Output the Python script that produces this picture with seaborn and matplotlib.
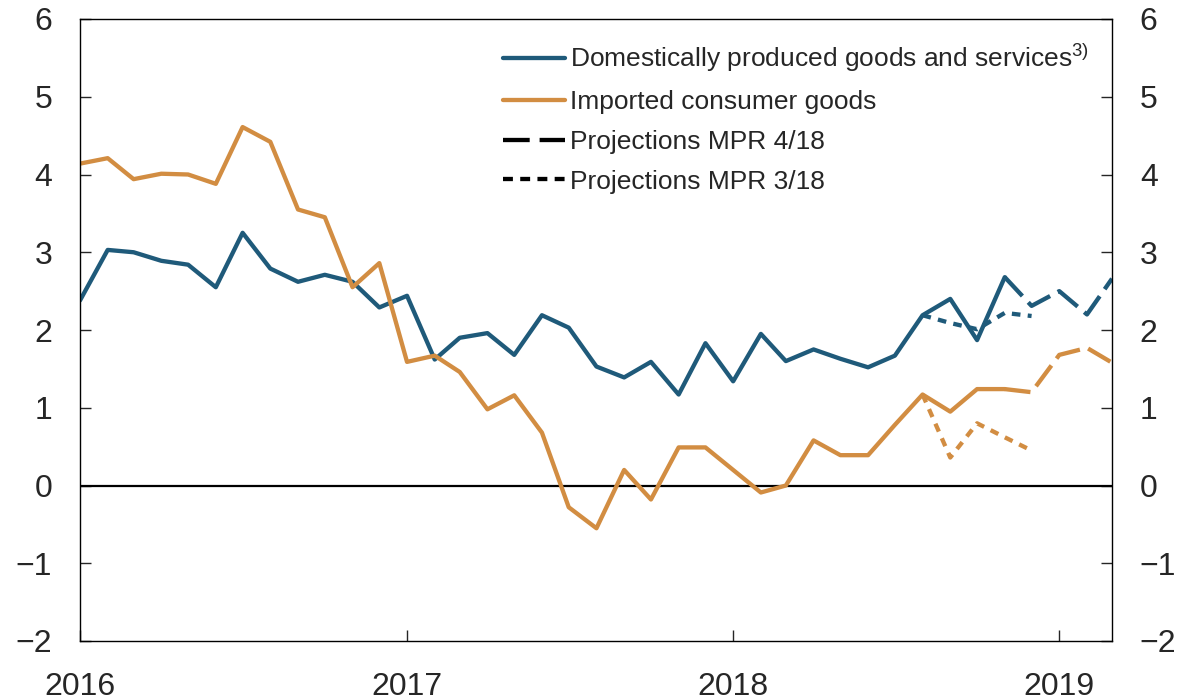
import numpy as np
import pandas as pd
import matplotlib
matplotlib.use("Agg")
import matplotlib.pyplot as plt
import matplotlib.dates as mdates
from matplotlib.lines import Line2D
import seaborn as sns

# monthly data, Jan 2016 onwards
domestic = [2.38, 3.03, 3.00, 2.89, 2.84, 2.55, 3.25, 2.79, 2.62, 2.71,
            2.62, 2.29, 2.44, 1.62, 1.90, 1.96, 1.68, 2.19, 2.03, 1.53,
            1.39, 1.59, 1.17, 1.83, 1.34, 1.95, 1.60, 1.75, 1.63, 1.52,
            1.67, 2.19, 2.40, 1.87, 2.68]
imported = [4.14, 4.21, 3.94, 4.01, 4.00, 3.88, 4.61, 4.42, 3.55, 3.45,
            2.55, 2.86, 1.59, 1.67, 1.46, 0.98, 1.16, 0.68, -0.28, -0.55,
            0.20, -0.18, 0.49, 0.49, 0.20, -0.09, 0.00, 0.58, 0.39, 0.39,
            0.78, 1.17, 0.95, 1.24, 1.24]

# projections MPR 4/18 (Nov 2018 - Mar 2019)
domestic_mpr4 = [2.68, 2.31, 2.50, 2.20, 2.66]
imported_mpr4 = [1.24, 1.20, 1.68, 1.77, 1.58]
# projections MPR 3/18 (Aug 2018 - Dec 2018)
domestic_mpr3 = [2.19, 2.09, 2.01, 2.22, 2.18]
imported_mpr3 = [1.17, 0.36, 0.80, 0.62, 0.45]

dates = pd.date_range("2016-01-01", periods=len(domestic), freq="MS")
dates_mpr4 = pd.date_range("2018-11-01", periods=5, freq="MS")
dates_mpr3 = pd.date_range("2018-08-01", periods=5, freq="MS")

blue = "#1f5a7a"
orange = "#d28d42"

sns.set_style("ticks")
plt.rcParams["font.family"] = ["Liberation Sans", "DejaVu Sans"]
plt.rcParams["mathtext.fontset"] = "custom"
plt.rcParams["mathtext.rm"] = "Liberation Sans"
plt.rcParams["mathtext.it"] = "Liberation Sans:italic"

fig = plt.figure(figsize=(11.81, 7.0), dpi=100)
ax = fig.add_axes([80/1181, 1-641/700, (1112-80)/1181, (641-19)/700])

lw = 3.1
dash = (0, (6, 2))
dot = (0, (2, 1.7))
sns.lineplot(x=dates, y=domestic, color=blue, lw=lw, ax=ax)
sns.lineplot(x=dates, y=imported, color=orange, lw=lw, ax=ax)
sns.lineplot(x=dates_mpr4, y=domestic_mpr4, color=blue, lw=lw, ax=ax, linestyle=dash)
sns.lineplot(x=dates_mpr4, y=imported_mpr4, color=orange, lw=lw, ax=ax, linestyle=dash)
sns.lineplot(x=dates_mpr3, y=domestic_mpr3, color=blue, lw=lw, ax=ax, linestyle=dot)
sns.lineplot(x=dates_mpr3, y=imported_mpr3, color=orange, lw=lw, ax=ax, linestyle=dot)

ax.axhline(0, color="black", lw=1.6, zorder=1)

ax.set_xlim(pd.Timestamp("2016-01-01"), pd.Timestamp("2019-03-01"))
ax.set_ylim(-2, 6)
ax.set_yticks(range(-2, 7))
ax.set_yticklabels([str(v).replace("-", "\u2212") for v in range(-2, 7)])
ax.xaxis.set_major_locator(mdates.YearLocator())
ax.xaxis.set_major_formatter(mdates.DateFormatter("%Y"))
ax.set_xlabel("")
ax.set_ylabel("")

for s in ax.spines.values():
    s.set_visible(True)
    s.set_linewidth(1.0)
    s.set_color("black")

ax.tick_params(axis="y", direction="in", length=8, width=1, left=True, right=True,
               labelleft=True, labelright=True, labelsize=23, pad=20)
ax.tick_params(axis="x", direction="in", length=8, width=1, bottom=True, top=False,
               labelsize=23, pad=22)

handles = [
    Line2D([], [], color=blue, lw=lw),
    Line2D([], [], color=orange, lw=lw),
    Line2D([], [], color="black", lw=lw, linestyle=(0, (6.2, 2.3))),
    Line2D([], [], color="black", lw=lw, linestyle=(0, (2.3, 1.7))),
]
labels = [
    "Domestically produced goods and services$^{3)}$",
    "Imported consumer goods",
    "Projections MPR 4/18",
    "Projections MPR 3/18",
]
ax.legend(handles, labels, loc="upper left", bbox_to_anchor=(503/1181, 1-42/700),
          bbox_transform=fig.transFigure, frameon=False, fontsize=19,
          handlelength=2.35, handletextpad=0.2, labelspacing=0.6,
          borderpad=0, borderaxespad=0)

fig.savefig("out.png", dpi=100)
